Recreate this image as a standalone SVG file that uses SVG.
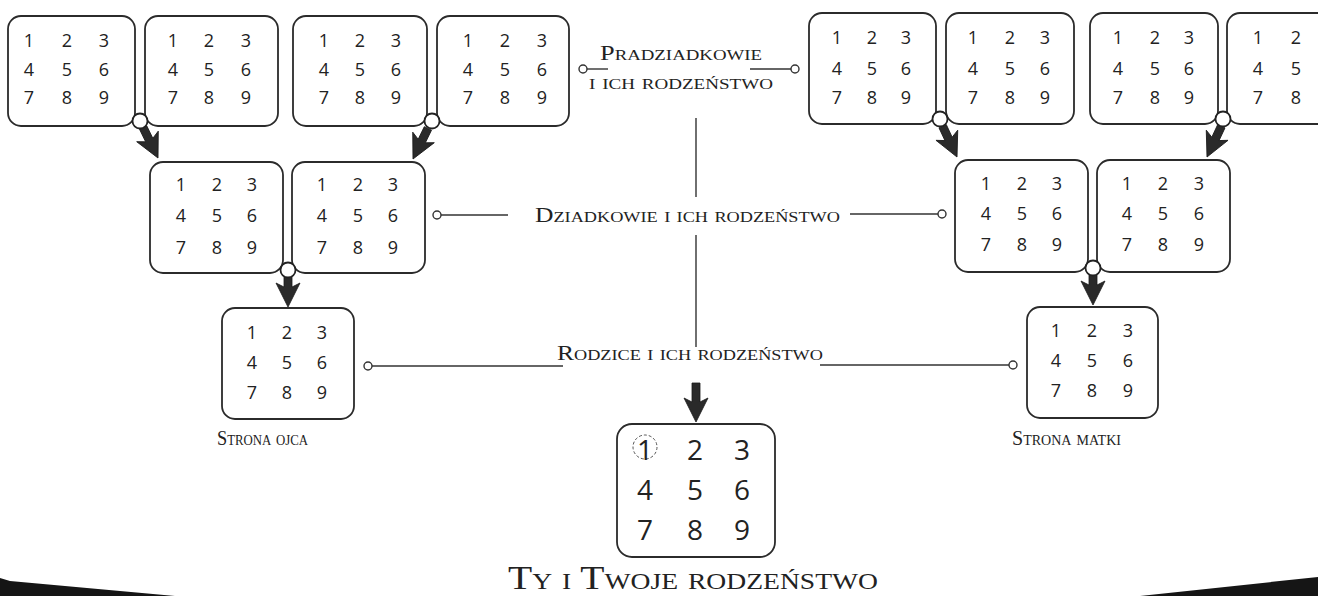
<svg xmlns="http://www.w3.org/2000/svg" xmlns:xlink="http://www.w3.org/1999/xlink" width="1318" height="596" viewBox="0 0 1318 596">
<style>
.box{fill:#fff;stroke:#2b2b2b;stroke-width:1.8}
.d{font-family:"Open Sans","DejaVu Sans",sans-serif;font-size:18px;fill:#222;text-anchor:middle}
.big{font-size:28px}
.lbl{font-family:"Liberation Serif",serif;font-variant:small-caps;fill:#222}
.ln{stroke:#333;stroke-width:1.4;fill:none}
.dot{fill:#fff;stroke:#333;stroke-width:1.4}
.knot{fill:#fff;stroke:#222;stroke-width:1.8}
.arr{fill:#2a2a2a;stroke:#1a1a1a;stroke-width:0.8}
</style>
<defs>
<path id="arrow" d="M-4,-34 L4,-34 L4,-20 L12,-24 L0,0 L-12,-24 L-4,-20 Z"/>
<path id="arrowLong" d="M-4,-39 L4,-39 L4,-20 L12,-24 L0,0 L-12,-24 L-4,-20 Z"/>
</defs>
<rect width="1318" height="596" fill="#fff"/>

<g id="connectors">
<use xlink:href="#arrow" href="#arrow" class="arr" transform="translate(158,158) rotate(-26)"/>
<use xlink:href="#arrow" href="#arrow" class="arr" transform="translate(413,159) rotate(26)"/>
<use xlink:href="#arrow" href="#arrow" class="arr" transform="translate(957,157) rotate(-25)"/>
<use xlink:href="#arrow" href="#arrow" class="arr" transform="translate(1207,157) rotate(25)"/>
<use xlink:href="#arrow" href="#arrow" class="arr" transform="translate(288,307)"/>
<use xlink:href="#arrow" href="#arrow" class="arr" transform="translate(1093,305)"/>
<use xlink:href="#arrowLong" href="#arrowLong" class="arr" transform="translate(696,422)"/>
<line class="ln" x1="587" y1="69" x2="608" y2="69"/>
<line class="ln" x1="750" y1="69" x2="791" y2="69"/>
<line class="ln" x1="696" y1="118" x2="696" y2="197"/>
<line class="ln" x1="696" y1="235" x2="696" y2="347"/>
<line class="ln" x1="441" y1="215" x2="508" y2="215"/>
<line class="ln" x1="850" y1="214" x2="938" y2="214"/>
<line class="ln" x1="372" y1="366" x2="563" y2="366"/>
<line class="ln" x1="820" y1="365" x2="1009" y2="365"/>
<circle class="dot" cx="583" cy="69" r="4"/>
<circle class="dot" cx="795" cy="69" r="4"/>
<circle class="dot" cx="437" cy="215" r="4"/>
<circle class="dot" cx="942" cy="214" r="4"/>
<circle class="dot" cx="368" cy="366" r="4"/>
<circle class="dot" cx="1013" cy="365" r="4"/>
</g>

<g id="boxA"><rect class="box" x="8" y="16" width="127" height="110" rx="13"/>
<text class="d" x="29" y="46.5">1</text><text class="d" x="67" y="46.5">2</text><text class="d" x="104" y="46.5">3</text>
<text class="d" x="29" y="75.5">4</text><text class="d" x="67" y="75.5">5</text><text class="d" x="104" y="75.5">6</text>
<text class="d" x="29" y="103.5">7</text><text class="d" x="67" y="103.5">8</text><text class="d" x="104" y="103.5">9</text></g>
<g id="boxB"><rect class="box" x="145" y="16" width="133" height="110" rx="13"/>
<text class="d" x="173" y="46.5">1</text><text class="d" x="209" y="46.5">2</text><text class="d" x="246" y="46.5">3</text>
<text class="d" x="173" y="75.5">4</text><text class="d" x="209" y="75.5">5</text><text class="d" x="246" y="75.5">6</text>
<text class="d" x="173" y="103.5">7</text><text class="d" x="209" y="103.5">8</text><text class="d" x="246" y="103.5">9</text></g>
<g id="boxC"><rect class="box" x="293" y="16" width="134" height="110" rx="13"/>
<text class="d" x="324" y="46.5">1</text><text class="d" x="360" y="46.5">2</text><text class="d" x="396" y="46.5">3</text>
<text class="d" x="324" y="75.5">4</text><text class="d" x="360" y="75.5">5</text><text class="d" x="396" y="75.5">6</text>
<text class="d" x="324" y="103.5">7</text><text class="d" x="360" y="103.5">8</text><text class="d" x="396" y="103.5">9</text></g>
<g id="boxD"><rect class="box" x="437" y="16" width="132" height="110" rx="13"/>
<text class="d" x="468" y="46.5">1</text><text class="d" x="505" y="46.5">2</text><text class="d" x="542" y="46.5">3</text>
<text class="d" x="468" y="75.5">4</text><text class="d" x="505" y="75.5">5</text><text class="d" x="542" y="75.5">6</text>
<text class="d" x="468" y="103.5">7</text><text class="d" x="505" y="103.5">8</text><text class="d" x="542" y="103.5">9</text></g>

<g id="boxH"><rect class="box" x="809" y="13" width="127" height="111" rx="13"/>
<text class="d" x="837" y="44">1</text><text class="d" x="872" y="44">2</text><text class="d" x="906" y="44">3</text>
<text class="d" x="837" y="74.5">4</text><text class="d" x="872" y="74.5">5</text><text class="d" x="906" y="74.5">6</text>
<text class="d" x="837" y="103.5">7</text><text class="d" x="872" y="103.5">8</text><text class="d" x="906" y="103.5">9</text></g>
<g id="boxI"><rect class="box" x="946" y="13" width="128" height="111" rx="13"/>
<text class="d" x="973" y="44">1</text><text class="d" x="1010" y="44">2</text><text class="d" x="1045" y="44">3</text>
<text class="d" x="973" y="74.5">4</text><text class="d" x="1010" y="74.5">5</text><text class="d" x="1045" y="74.5">6</text>
<text class="d" x="973" y="103.5">7</text><text class="d" x="1010" y="103.5">8</text><text class="d" x="1045" y="103.5">9</text></g>
<g id="boxJ"><rect class="box" x="1090" y="13" width="128" height="111" rx="13"/>
<text class="d" x="1118" y="44">1</text><text class="d" x="1155" y="44">2</text><text class="d" x="1189" y="44">3</text>
<text class="d" x="1118" y="74.5">4</text><text class="d" x="1155" y="74.5">5</text><text class="d" x="1189" y="74.5">6</text>
<text class="d" x="1118" y="103.5">7</text><text class="d" x="1155" y="103.5">8</text><text class="d" x="1189" y="103.5">9</text></g>
<g id="boxK"><rect class="box" x="1227" y="13" width="128" height="111" rx="13"/>
<text class="d" x="1258" y="44">1</text><text class="d" x="1296" y="44">2</text>
<text class="d" x="1258" y="74.5">4</text><text class="d" x="1296" y="74.5">5</text>
<text class="d" x="1258" y="103.5">7</text><text class="d" x="1296" y="103.5">8</text></g>

<g id="boxE"><rect class="box" x="150" y="162" width="133" height="111" rx="13"/>
<text class="d" x="181" y="190.5">1</text><text class="d" x="217" y="190.5">2</text><text class="d" x="252" y="190.5">3</text>
<text class="d" x="181" y="221.5">4</text><text class="d" x="217" y="221.5">5</text><text class="d" x="252" y="221.5">6</text>
<text class="d" x="181" y="253.5">7</text><text class="d" x="217" y="253.5">8</text><text class="d" x="252" y="253.5">9</text></g>
<g id="boxF"><rect class="box" x="292" y="162" width="133" height="111" rx="13"/>
<text class="d" x="322" y="190.5">1</text><text class="d" x="358" y="190.5">2</text><text class="d" x="393" y="190.5">3</text>
<text class="d" x="322" y="221.5">4</text><text class="d" x="358" y="221.5">5</text><text class="d" x="393" y="221.5">6</text>
<text class="d" x="322" y="253.5">7</text><text class="d" x="358" y="253.5">8</text><text class="d" x="393" y="253.5">9</text></g>
<g id="boxL"><rect class="box" x="955" y="160" width="133" height="112" rx="13"/>
<text class="d" x="986" y="189.5">1</text><text class="d" x="1022" y="189.5">2</text><text class="d" x="1057" y="189.5">3</text>
<text class="d" x="986" y="219.5">4</text><text class="d" x="1022" y="219.5">5</text><text class="d" x="1057" y="219.5">6</text>
<text class="d" x="986" y="250.5">7</text><text class="d" x="1022" y="250.5">8</text><text class="d" x="1057" y="250.5">9</text></g>
<g id="boxM"><rect class="box" x="1097" y="160" width="133" height="112" rx="13"/>
<text class="d" x="1127" y="189.5">1</text><text class="d" x="1163" y="189.5">2</text><text class="d" x="1199" y="189.5">3</text>
<text class="d" x="1127" y="219.5">4</text><text class="d" x="1163" y="219.5">5</text><text class="d" x="1199" y="219.5">6</text>
<text class="d" x="1127" y="250.5">7</text><text class="d" x="1163" y="250.5">8</text><text class="d" x="1199" y="250.5">9</text></g>

<g id="boxG"><rect class="box" x="222" y="308" width="132" height="111" rx="13"/>
<text class="d" x="252" y="338.5">1</text><text class="d" x="287" y="338.5">2</text><text class="d" x="322" y="338.5">3</text>
<text class="d" x="252" y="368.5">4</text><text class="d" x="287" y="368.5">5</text><text class="d" x="322" y="368.5">6</text>
<text class="d" x="252" y="398.5">7</text><text class="d" x="287" y="398.5">8</text><text class="d" x="322" y="398.5">9</text></g>
<g id="boxN"><rect class="box" x="1027" y="307" width="131" height="111" rx="13"/>
<text class="d" x="1056" y="336.5">1</text><text class="d" x="1092" y="336.5">2</text><text class="d" x="1128" y="336.5">3</text>
<text class="d" x="1056" y="366.5">4</text><text class="d" x="1092" y="366.5">5</text><text class="d" x="1128" y="366.5">6</text>
<text class="d" x="1056" y="396.5">7</text><text class="d" x="1092" y="396.5">8</text><text class="d" x="1128" y="396.5">9</text></g>

<g id="boxYou"><rect class="box" x="617" y="424" width="158" height="133" rx="15"/>
<circle cx="645" cy="447" r="12" fill="none" stroke="#555" stroke-width="1" stroke-dasharray="3,2"/>
<text class="d big" x="645" y="460">1</text><text class="d big" x="695" y="460">2</text><text class="d big" x="742" y="460">3</text>
<text class="d big" x="645" y="500">4</text><text class="d big" x="695" y="500">5</text><text class="d big" x="742" y="500">6</text>
<text class="d big" x="645" y="540">7</text><text class="d big" x="695" y="540">8</text><text class="d big" x="742" y="540">9</text></g>

<g id="knots">
<circle class="knot" cx="140" cy="121" r="7.5"/>
<circle class="knot" cx="432" cy="121" r="7.5"/>
<circle class="knot" cx="940" cy="119" r="7.5"/>
<circle class="knot" cx="1223" cy="119" r="7.5"/>
<circle class="knot" cx="288" cy="270" r="7.5"/>
<circle class="knot" cx="1093" cy="268" r="7.5"/>
</g>

<g id="labels">
<text class="lbl" x="600" y="60" font-size="21" textLength="162" lengthAdjust="spacingAndGlyphs">Pradziadkowie</text>
<text class="lbl" x="589" y="89" font-size="20" textLength="184" lengthAdjust="spacingAndGlyphs">i ich rodzeństwo</text>
<text class="lbl" x="535" y="222" font-size="21" textLength="305" lengthAdjust="spacingAndGlyphs">Dziadkowie i ich rodzeństwo</text>
<text class="lbl" x="557" y="360" font-size="21" textLength="266" lengthAdjust="spacingAndGlyphs">Rodzice i ich rodzeństwo</text>
<text class="lbl" x="217" y="445" font-size="20" textLength="91" lengthAdjust="spacingAndGlyphs">Strona ojca</text>
<text class="lbl" x="1012" y="445" font-size="20" textLength="109" lengthAdjust="spacingAndGlyphs">Strona matki</text>
<text class="lbl" x="508" y="589" font-size="33" textLength="370" lengthAdjust="spacingAndGlyphs">Ty i Twoje rodzeństwo</text>
</g>

<g id="scan-edges">
<path d="M0,578 L10,581 L175,596 L0,596 Z" fill="#151515"/>
<path d="M1318,577 L1140,596 L1318,596 Z" fill="#151515"/>
</g>
</svg>
